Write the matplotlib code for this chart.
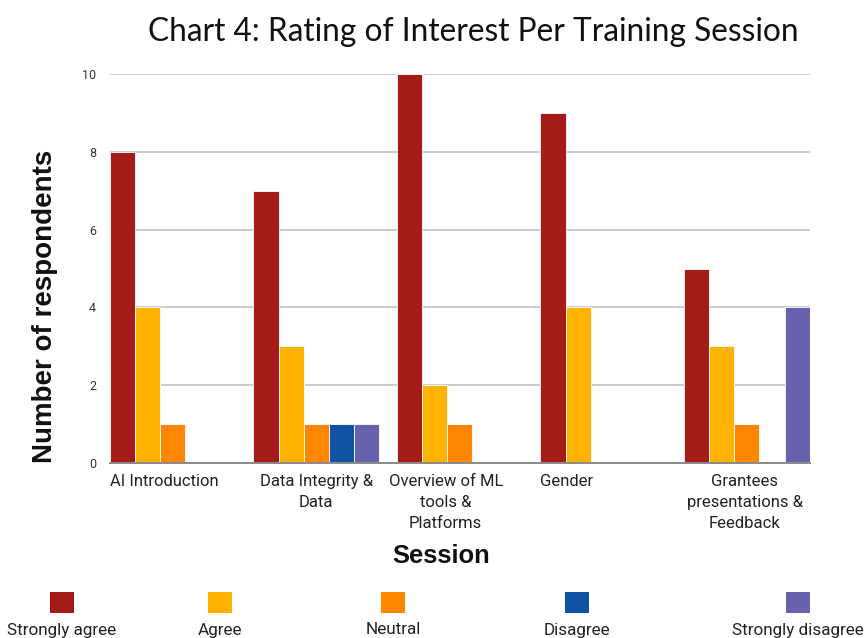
import numpy as np
import matplotlib.pyplot as plt
import matplotlib.transforms as mtransforms
from matplotlib.patches import Rectangle

sessions = ['AI Introduction', 'Data Integrity &\nData', 'Overview of ML\ntools &\nPlatforms',
            'Gender', 'Grantees\npresentations &\nFeedback']
ratings = ['Strongly agree', 'Agree', 'Neutral', 'Disagree', 'Strongly disagree']
strongly_agree = [8, 7, 10, 9, 5]
agree = [4, 3, 2, 4, 3]
neutral = [1, 1, 1, 0, 1]
disagree = [0, 1, 0, 0, 0]
strongly_disagree = [0, 1, 0, 0, 4]
series = [strongly_agree, agree, neutral, disagree, strongly_disagree]
colors = ['#a51b18', '#ffb300', '#ff8600', '#1052a3', '#6861ae']
y_ticks = [0, 2, 4, 6, 8, 10]

fig = plt.figure(figsize=(8.65, 6.38), dpi=100)
ax = fig.add_axes([0.127, 0.2743, 0.809, 0.6097])

x = np.arange(len(sessions))
w = 0.175
for j, (vals, c) in enumerate(zip(series, colors)):
    ax.bar(x + (j - 2) * w, vals, width=w, color=c, edgecolor='white',
           linewidth=0.6, zorder=3, label=ratings[j])

ax.set_xlim(-2.5 * w, len(sessions) - 1 + 2.5 * w)
ax.set_ylim(0, 10)
ax.set_yticks(y_ticks)
ax.set_yticklabels([str(t) for t in y_ticks], fontsize=9, color='#333333', family='Roboto')
ax.yaxis.grid(True, color='#cccccc', linewidth=1.4, zorder=0)
ax.set_axisbelow(True)
for s in ['top', 'right', 'left']:
    ax.spines[s].set_visible(False)
ax.spines['bottom'].set_color('#8a8a8a')
ax.spines['bottom'].set_linewidth(1.4)
ax.spines['bottom'].set_zorder(4)
ax.tick_params(axis='both', length=0)
ax.tick_params(axis='y', pad=10)
ax.tick_params(axis='x', pad=8)
ax.set_xticks(x)
ax.set_xticklabels(sessions, fontsize=12, family='Roboto', color='#222222',
                   va='top', linespacing=1.5)

# nudge category labels sideways like the original layout (pixels)
label_shift = [-8, 0, -14, -37, -2]
for lbl, dx in zip(ax.get_xticklabels(), label_shift):
    lbl.set_transform(lbl.get_transform() +
                      mtransforms.ScaledTranslation(dx / 100, 0, fig.dpi_scale_trans))

fig.text(0.547, 0.95, 'Chart 4: Rating of Interest Per Training Session',
         fontsize=22.8, family='Lato', ha='center', va='center', color='#111111')
fig.text(0.052, 0.5196, 'Number of respondents', fontsize=20, family='Liberation Sans',
         weight='bold', rotation=90, ha='center', va='center', color='#111111')
fig.text(0.51, 0.1285, 'Session', fontsize=18.4, family='Liberation Sans', weight='bold',
         ha='center', va='center', color='#111111')

# legend: squares above labels
leg_x = [62, 220, 393, 577, 798]
for cx, lab, c in zip(leg_x, ratings, colors):
    fig.patches.append(Rectangle(((cx - 12) / 865, 1 - 613 / 638), 24 / 865, 21 / 638,
                                 transform=fig.transFigure, facecolor=c, edgecolor='none'))
    fig.text(cx / 865, 1 - 630 / 638, lab, fontsize=12.3, family='Roboto',
             ha='center', va='center', color='#222222')

plt.savefig('out.png', dpi=100)
plt.close(fig)
